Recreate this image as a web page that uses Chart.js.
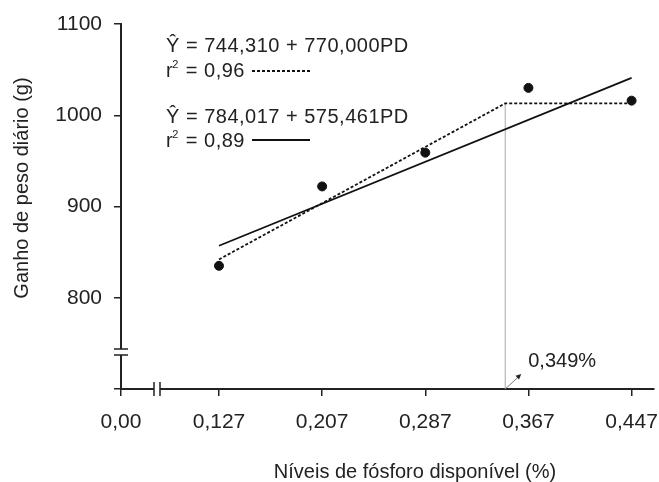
<!DOCTYPE html>
<html>
<head>
<meta charset="utf-8">
<script src="https://cdn.jsdelivr.net/npm/chart.js@4.4.1/dist/chart.umd.min.js"></script>
<style>
  html, body { margin: 0; padding: 0; background: #fff; }
  #wrap { width: 659px; height: 482px; position: relative; }
</style>
</head>
<body>
<div id="wrap"><canvas id="fosforoChart"></canvas></div>
<script>
// observed means
const levels = [0.127, 0.207, 0.287, 0.367, 0.447];
const gain = [835, 922, 959, 1030, 1016];

// fitted lines, end points
const lrpX = [0.127, 0.349, 0.447];
const lrpY = [842, 1013, 1013];
const linX = [0.127, 0.447];
const linY = [857, 1041];

const breakPoint = 0.349;
const xTickValues = [0.051, 0.127, 0.207, 0.287, 0.367, 0.447];
const xTickLabels = ['0,00', '0,127', '0,207', '0,287', '0,367', '0,447'];
const yTickValues = [700, 800, 900, 1000, 1100];
const yTickLabels = ['', '800', '900', '1000', '1100'];

const FONT = '"Liberation Sans", Arial, sans-serif';
const INK = '#222';

Chart.defaults.font.family = FONT;
Chart.defaults.color = INK;

// breaks, arrow, equations, axis titles
const decor = {
    id: 'decor',
    afterDraw(chart) {
        const ctx = chart.ctx;
        const area = chart.chartArea;
        const xs = chart.scales.x;
        ctx.save();

        // y axis break
        const yb = 352;
        ctx.fillStyle = '#fff';
        ctx.fillRect(area.left - 3, yb - 3, 6, 6);
        ctx.strokeStyle = INK;
        ctx.lineWidth = 1.5;
        ctx.beginPath();
        ctx.moveTo(area.left - 7, yb - 3); ctx.lineTo(area.left + 7, yb - 3);
        ctx.moveTo(area.left - 7, yb + 3); ctx.lineTo(area.left + 7, yb + 3);
        ctx.stroke();

        // x axis break
        const xb = 157;
        ctx.fillRect(xb - 3, area.bottom - 3, 6, 6);
        ctx.beginPath();
        ctx.moveTo(xb - 3, area.bottom - 7); ctx.lineTo(xb - 3, area.bottom + 7);
        ctx.moveTo(xb + 3, area.bottom - 7); ctx.lineTo(xb + 3, area.bottom + 7);
        ctx.stroke();

        // arrow to break point
        const ax = xs.getPixelForValue(breakPoint);
        const ay = area.bottom;
        const ex = ax + 16, ey = ay - 15;
        ctx.strokeStyle = '#777';
        ctx.lineWidth = 1;
        ctx.beginPath();
        ctx.moveTo(ax, ay); ctx.lineTo(ex - 3, ey + 3);
        ctx.stroke();
        const ang = Math.atan2(ey - ay, ex - ax);
        ctx.fillStyle = INK;
        ctx.beginPath();
        ctx.moveTo(ex, ey);
        ctx.lineTo(ex - 6 * Math.cos(ang - 0.45), ey - 6 * Math.sin(ang - 0.45));
        ctx.lineTo(ex - 6 * Math.cos(ang + 0.45), ey - 6 * Math.sin(ang + 0.45));
        ctx.closePath();
        ctx.fill();
        ctx.font = '20px ' + FONT;
        ctx.textBaseline = 'alphabetic';
        ctx.fillText('0,349%', ax + 23, 367);

        // equations
        ctx.letterSpacing = '0.5px';
        const lx = 166;
        ctx.font = '20px ' + FONT;
        ctx.fillText('Ŷ = 744,310 + 770,000PD', lx, 52);
        let end = drawR2(ctx, lx, 77, '0,96');
        ctx.strokeStyle = '#111';
        ctx.lineWidth = 1.8;
        ctx.setLineDash([3, 2]);
        ctx.beginPath(); ctx.moveTo(end + 7, 71); ctx.lineTo(end + 65, 71); ctx.stroke();
        ctx.setLineDash([]);

        ctx.fillText('Ŷ = 784,017 + 575,461PD', lx, 123);
        end = drawR2(ctx, lx, 147, '0,89');
        ctx.beginPath(); ctx.moveTo(end + 7, 140); ctx.lineTo(end + 65, 140); ctx.stroke();
        ctx.letterSpacing = '0px';

        // axis titles
        ctx.font = '20px ' + FONT;
        ctx.fillStyle = INK;
        ctx.textAlign = 'center';
        ctx.fillText('Níveis de fósforo disponível (%)', 415, 478);
        ctx.translate(28, 188);
        ctx.rotate(-Math.PI / 2);
        ctx.fillText('Ganho de peso diário (g)', 0, 0);
        ctx.restore();
    }
};

function drawR2(ctx, x, y, val) {
    ctx.font = '20px ' + FONT;
    ctx.fillText('r', x, y);
    let w = ctx.measureText('r').width;
    ctx.font = '11px ' + FONT;
    ctx.fillText('2', x + w - 1, y - 9);
    w += ctx.measureText('2').width;
    ctx.font = '20px ' + FONT;
    const rest = ' = ' + val;
    ctx.fillText(rest, x + w, y);
    return x + w + ctx.measureText(rest).width;
}

const ctx = document.getElementById('fosforoChart').getContext('2d');
const chart = new Chart(ctx, {
    type: 'scatter',
    data: {
        datasets: [
            {
                label: 'Observado',
                data: levels.map((v, i) => ({ x: v, y: gain[i] })),
                backgroundColor: '#111',
                borderColor: '#111',
                pointRadius: 4.5,
                order: 0
            },
            {
                label: 'LRP',
                type: 'line',
                data: lrpX.map((v, i) => ({ x: v, y: lrpY[i] })),
                borderColor: '#111',
                borderWidth: 1.8,
                borderDash: [3, 2],
                pointRadius: 0,
                fill: false,
                order: 1
            },
            {
                label: 'Linear',
                type: 'line',
                data: linX.map((v, i) => ({ x: v, y: linY[i] })),
                borderColor: '#111',
                borderWidth: 1.8,
                pointRadius: 0,
                fill: false,
                order: 2
            },
            {
                label: 'Ponto de quebra',
                type: 'line',
                data: [{ x: breakPoint, y: yTickValues[0] }, { x: breakPoint, y: lrpY[1] }],
                borderColor: '#aaa',
                borderWidth: 1,
                pointRadius: 0,
                fill: false,
                order: 3
            }
        ]
    },
    options: {
        responsive: true,
        maintainAspectRatio: false,
        animation: false,
        layout: { padding: { top: 24, right: 4, left: 0, bottom: 0 } },
        plugins: {
            legend: { display: false },
            tooltip: { enabled: false }
        },
        scales: {
            x: {
                type: 'linear',
                min: 0.051,
                max: 0.464,
                afterBuildTicks: s => { s.ticks = xTickValues.map(v => ({ value: v })); },
                afterFit: s => { s.height = 93; s.paddingLeft = 0; s.paddingRight = 0; },
                ticks: {
                    autoSkip: false,
                    maxRotation: 0,
                    padding: 14,
                    color: INK,
                    font: { size: 21 },
                    callback: (v, i) => xTickLabels[i]
                },
                grid: { drawOnChartArea: false, tickLength: 7, color: INK, lineWidth: 1.5 },
                border: { color: INK, width: 2 }
            },
            y: {
                type: 'linear',
                min: 700,
                max: 1100,
                afterBuildTicks: s => { s.ticks = yTickValues.map(v => ({ value: v })); },
                afterFit: s => { s.width = 121; s.paddingTop = 0; s.paddingBottom = 0; },
                ticks: {
                    autoSkip: false,
                    padding: 12,
                    color: INK,
                    font: { size: 21 },
                    callback: (v, i) => yTickLabels[i]
                },
                grid: { drawOnChartArea: false, tickLength: 7, color: INK, lineWidth: 1.5 },
                border: { color: INK, width: 2 }
            }
        }
    },
    plugins: [decor]
});
</script>
</body>
</html>
